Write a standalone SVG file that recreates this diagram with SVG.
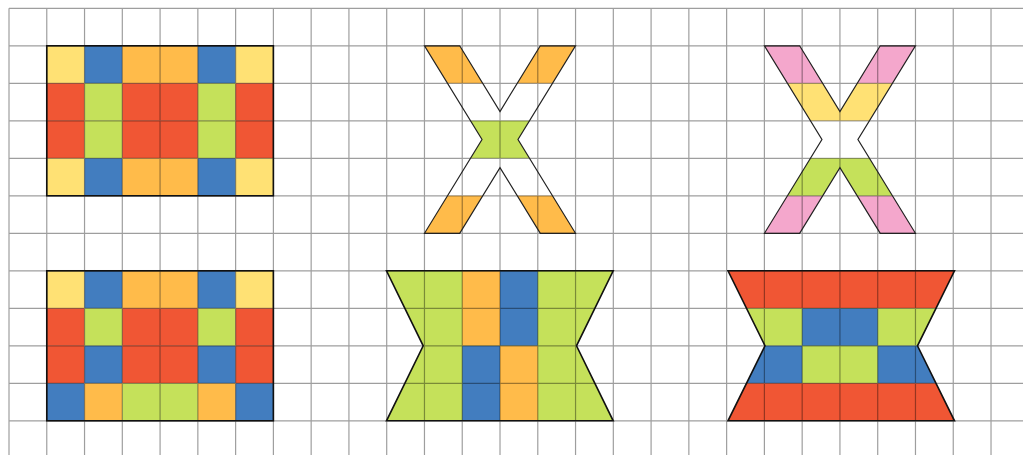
<svg xmlns="http://www.w3.org/2000/svg" width="1023" height="455" viewBox="0 0 1023 455">
<style>
.y{fill:#FFE174}.b{fill:#427DBF}.o{fill:#FFBB4A}.r{fill:#F05634}.g{fill:#C5E15A}.p{fill:#F4A7CC}
.grid{stroke:#000;stroke-opacity:0.38;stroke-width:1.2;fill:none}
.ol{fill:none;stroke:#222;stroke-width:1.2;stroke-linejoin:miter}
.olr{fill:none;stroke:#111;stroke-width:1.6}
</style>
<defs>
<g id="xarms">
<polygon points="424.5,45.8 459.7,45.8 482.7,83.3 447.5,83.3"/>
<polygon points="575.5,45.8 540.3,45.8 517.3,83.3 552.5,83.3"/>
<polygon points="424.5,233.3 459.7,233.3 482.7,195.8 447.5,195.8"/>
<polygon points="575.5,233.3 540.3,233.3 517.3,195.8 552.5,195.8"/>
</g>
<polygon id="xoutline" points="424.5,45.8 459.7,45.8 500,111.5 540.3,45.8 575.5,45.8 518,139.55 575.5,233.3 540.3,233.3 500,167.6 459.7,233.3 424.5,233.3 482,139.55"/>
<g id="rowA"><rect class="y" x="46.77" width="37.77" height="37.5"/><rect class="b" x="84.54" width="37.77" height="37.5"/><rect class="o" x="122.31" width="37.77" height="37.5"/><rect class="o" x="160.08" width="37.77" height="37.5"/><rect class="b" x="197.85" width="37.77" height="37.5"/><rect class="y" x="235.62" width="37.77" height="37.5"/></g>
<g id="rowB"><rect class="r" x="46.77" width="37.77" height="37.5"/><rect class="g" x="84.54" width="37.77" height="37.5"/><rect class="r" x="122.31" width="37.77" height="37.5"/><rect class="r" x="160.08" width="37.77" height="37.5"/><rect class="g" x="197.85" width="37.77" height="37.5"/><rect class="r" x="235.62" width="37.77" height="37.5"/></g>
</defs>

<g id="fig1">
<use href="#rowA" y="45.8"/>
<use href="#rowB" y="83.3"/>
<use href="#rowB" y="120.8"/>
<use href="#rowA" y="158.3"/>
</g>

<g id="fig2">
<use href="#rowA" y="270.8"/>
<use href="#rowB" y="308.3"/>
<g transform="translate(0,345.8)"><rect class="r" x="46.77" width="37.77" height="37.5"/><rect class="b" x="84.54" width="37.77" height="37.5"/><rect class="r" x="122.31" width="37.77" height="37.5"/><rect class="r" x="160.08" width="37.77" height="37.5"/><rect class="b" x="197.85" width="37.77" height="37.5"/><rect class="r" x="235.62" width="37.77" height="37.5"/></g>
<g transform="translate(0,383.3)"><rect class="b" x="46.77" width="37.77" height="37.5"/><rect class="o" x="84.54" width="37.77" height="37.5"/><rect class="g" x="122.31" width="37.77" height="37.5"/><rect class="g" x="160.08" width="37.77" height="37.5"/><rect class="o" x="197.85" width="37.77" height="37.5"/><rect class="b" x="235.62" width="37.77" height="37.5"/></g>
</g>

<g id="fig3">
<use href="#xarms" class="o"/>
<polygon class="g" points="470.5,120.8 529.5,120.8 518,139.55 529.5,158.3 470.5,158.3 482,139.55"/>
</g>

<g id="fig4" transform="translate(339.94,0)">
<use href="#xarms" class="p"/>
<polygon class="y" points="447.5,83.3 482.7,83.3 500,111.5 517.3,83.3 552.5,83.3 529.5,120.8 470.5,120.8"/>
<polygon class="g" points="470.5,158.3 529.5,158.3 552.5,195.8 517.3,195.8 500,167.6 482.7,195.8 447.5,195.8"/>
</g>

<g id="fig5">
<polygon class="g" points="386.5,270.8 613.2,270.8 576.5,345.8 613.2,420.8 386.5,420.8 423.2,345.8"/>
<rect class="o" x="462.24" y="270.8" width="37.77" height="75"/>
<rect class="b" x="462.24" y="345.8" width="37.77" height="75"/>
<rect class="b" x="500.01" y="270.8" width="37.77" height="75"/>
<rect class="o" x="500.01" y="345.8" width="37.77" height="75"/>
</g>

<g id="fig6">
<polygon class="r" points="728,270.8 954.5,270.8 936,308.3 746.5,308.3"/>
<polygon class="g" points="746.5,308.3 936,308.3 917.5,345.8 765,345.8"/>
<rect class="b" x="802.17" y="308.3" width="75.54" height="37.5"/>
<polygon class="b" points="765,345.8 917.5,345.8 936,383.3 746.5,383.3"/>
<rect class="g" x="802.17" y="345.8" width="75.54" height="37.5"/>
<polygon class="r" points="746.5,383.3 936,383.3 954.5,420.8 728,420.8"/>
</g>

<g id="grid">
<path class="grid" d="M9,8.3V455M46.77,8.3V455M84.54,8.3V455M122.31,8.3V455M160.08,8.3V455M197.85,8.3V455M235.62,8.3V455M273.39,8.3V455M311.16,8.3V455M348.93,8.3V455M386.7,8.3V455M424.47,8.3V455M462.24,8.3V455M500.01,8.3V455M537.78,8.3V455M575.55,8.3V455M613.32,8.3V455M651.09,8.3V455M688.86,8.3V455M726.63,8.3V455M764.4,8.3V455M802.17,8.3V455M839.94,8.3V455M877.71,8.3V455M915.48,8.3V455M953.25,8.3V455M991.02,8.3V455M9,8.3H1023M9,45.8H1023M9,83.3H1023M9,120.8H1023M9,158.3H1023M9,195.8H1023M9,233.3H1023M9,270.8H1023M9,308.3H1023M9,345.8H1023M9,383.3H1023M9,420.8H1023"/>
</g>

<g id="outlines">
<rect class="olr" x="46.77" y="45.8" width="226.62" height="150"/>
<rect class="olr" x="46.77" y="270.8" width="226.62" height="150"/>
<use href="#xoutline" class="ol"/>
<use href="#xoutline" class="ol" transform="translate(339.94,0)"/>
<polygon class="olr" points="386.5,270.8 613.2,270.8 576.5,345.8 613.2,420.8 386.5,420.8 423.2,345.8"/>
<polygon class="olr" points="728,270.8 954.5,270.8 917.5,345.8 954.5,420.8 728,420.8 765,345.8"/>
</g>
</svg>
